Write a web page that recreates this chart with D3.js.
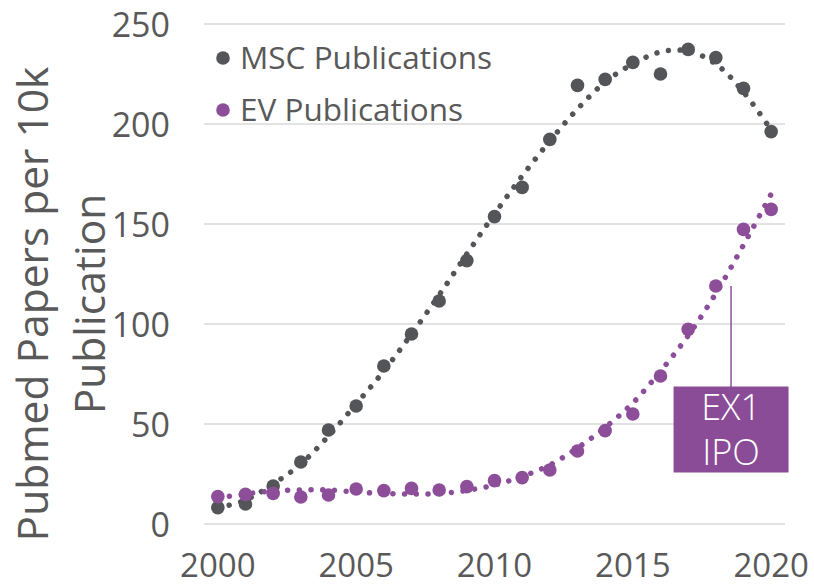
<!DOCTYPE html>
<html>
<head>
<meta charset="utf-8">
<script src="https://cdn.jsdelivr.net/npm/d3@7"></script>
<style>
  body { margin: 0; background: #fff; }
  svg { display: block; font-family: "Open Sans", "Noto Sans", sans-serif; }
</style>
</head>
<body>
<div id="chart"></div>
<script>
var years = [2000, 2001, 2002, 2003, 2004, 2005, 2006, 2007, 2008, 2009, 2010,
             2011, 2012, 2013, 2014, 2015, 2016, 2017, 2018, 2019, 2020];
var mscValues = [8.2, 10, 19, 31, 47, 59, 79, 95, 111.5, 131.7, 153.7,
                 168.3, 192.3, 219.3, 222.3, 230.8, 225, 237.3, 233.2, 217.8, 196.2];
var evValues = [13.7, 14.8, 15.3, 13.5, 14.5, 17.5, 16.7, 17.8, 17, 18.7, 21.7,
                23.2, 27, 36.5, 46.7, 55, 74, 97.3, 119, 147.3, 157.3];
// dotted trend lines
var mscTrend = [8, 12, 20, 30, 44, 60, 76.5, 95, 114.5, 135, 155,
                174, 191.5, 207.5, 221, 230, 236, 236.5, 230, 216, 197];
var evTrend = [13, 15, 16.5, 17, 17, 16, 15.3, 15, 15.2, 16.8, 19.5,
               23.8, 29.5, 38, 48.3, 60.5, 76.4, 94.2, 115.3, 139.5, 165];
var xTicks = [2000, 2005, 2010, 2015, 2020];
var yTicks = [0, 50, 100, 150, 200, 250];
var seriesNames = ["MSC Publications", "EV Publications"];
var yTitle = ["Pubmed Papers per 10k", "Publication"];
var noteLines = ["EX1", "IPO"];
var noteYear = 2018.55, noteValue = 119;

(function () {
    var width = 814, height = 586;
    var gray = "#545558", purple = "#8d4e99", textColor = "#595959";

    var x = d3.scaleLinear().domain([1999.5, 2020.5]).range([204, 785]);
    var y = d3.scaleLinear().domain([0, 250]).range([524, 24]);

    var svg = d3.select("#chart").append("svg")
        .attr("width", width).attr("height", height);

    // gridlines
    svg.append("g").selectAll("line")
        .data(yTicks).enter().append("line")
        .attr("x1", 204).attr("x2", 785)
        .attr("y1", d => y(d)).attr("y2", d => y(d))
        .attr("stroke", "#d9d9d9").attr("stroke-width", 1.5);

    // tick labels
    svg.append("g").selectAll("text")
        .data(yTicks).enter().append("text")
        .attr("x", 170).attr("y", d => y(d) + 12.5)
        .attr("text-anchor", "end")
        .attr("fill", textColor).attr("font-size", 34)
        .text(d => d);

    svg.append("g").selectAll("text")
        .data(xTicks).enter().append("text")
        .attr("x", d => x(d)).attr("y", 577)
        .attr("text-anchor", "middle")
        .attr("fill", textColor).attr("font-size", 33)
        .text(d => d);

    // y title, two lines
    svg.append("g").selectAll("text")
        .data(yTitle).enter().append("text")
        .attr("transform", (d, i) => "translate(" + (48 + i * 57) + ",304) rotate(-90)")
        .attr("text-anchor", "middle")
        .attr("fill", textColor).attr("font-size", 42.5)
        .text(d => d);

    // trend lines
    var trend = d3.line()
        .x((d, i) => x(years[i]))
        .y(d => y(d))
        .curve(d3.curveCatmullRom);

    [[mscTrend, gray], [evTrend, purple]].forEach(function (t) {
        svg.append("path")
            .attr("d", trend(t[0]))
            .attr("fill", "none")
            .attr("stroke", t[1])
            .attr("stroke-width", 5.5)
            .attr("stroke-linecap", "round")
            .attr("stroke-dasharray", "0.01 11.7");
    });

    // markers
    [[mscValues, gray], [evValues, purple]].forEach(function (s) {
        svg.append("g").selectAll("circle")
            .data(s[0]).enter().append("circle")
            .attr("cx", (d, i) => x(years[i]))
            .attr("cy", d => y(d))
            .attr("r", 6.8)
            .attr("fill", s[1]);
    });

    // legend
    var legend = svg.append("g").selectAll("g")
        .data(seriesNames).enter().append("g")
        .attr("transform", (d, i) => "translate(223," + (58 + i * 52) + ")");
    legend.append("circle")
        .attr("r", 6.8)
        .attr("fill", (d, i) => i == 0 ? gray : purple);
    legend.append("text")
        .attr("x", 17).attr("y", 10.5)
        .attr("fill", textColor).attr("font-size", 31.5)
        .text(d => d);

    // annotation
    var nx = x(noteYear);
    svg.append("line")
        .attr("x1", nx).attr("x2", nx)
        .attr("y1", y(noteValue)).attr("y2", 387)
        .attr("stroke", purple).attr("stroke-width", 1.5);
    svg.append("rect")
        .attr("x", nx - 57.5).attr("y", 386.5)
        .attr("width", 115).attr("height", 86)
        .attr("fill", "#8b4c97");
    svg.append("g").selectAll("text")
        .data(noteLines).enter().append("text")
        .attr("x", nx).attr("y", (d, i) => 420 + i * 45)
        .attr("text-anchor", "middle")
        .attr("fill", "#fff").attr("font-size", 36).attr("font-weight", 300)
        .text(d => d);
})();
</script>
</body>
</html>
